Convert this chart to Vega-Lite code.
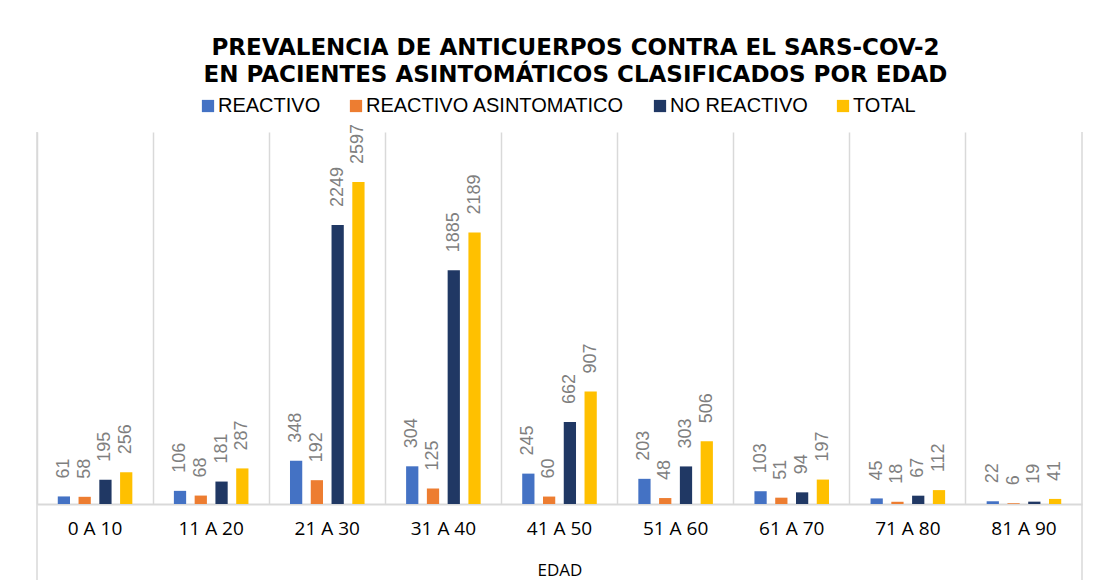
{
  "$schema": "https://vega.github.io/schema/vega-lite/v6.json",
  "width": 1045,
  "height": 372,
  "autosize": {"type": "none"},
  "padding": {"left": 37, "top": 132, "right": 15, "bottom": 76},
  "background": "white",
  "config": {"view": {"stroke": null}},
  "title": {
    "text": ["PREVALENCIA DE ANTICUERPOS CONTRA EL SARS-COV-2", "EN PACIENTES ASINTOMÁTICOS CLASIFICADOS POR EDAD"],
    "font": "DejaVu Sans",
    "fontSize": 23,
    "fontWeight": "bold",
    "color": "#000000",
    "anchor": "middle",
    "frame": "group",
    "lineHeight": 27,
    "offset": 9,
    "dx": 16
  },
  "data": {"values": [
      {"edad": "0 A 10", "serie": "REACTIVO", "valor": 61},
      {"edad": "0 A 10", "serie": "REACTIVO ASINTOMATICO", "valor": 58},
      {"edad": "0 A 10", "serie": "NO REACTIVO", "valor": 195},
      {"edad": "0 A 10", "serie": "TOTAL", "valor": 256},
      {"edad": "11 A 20", "serie": "REACTIVO", "valor": 106},
      {"edad": "11 A 20", "serie": "REACTIVO ASINTOMATICO", "valor": 68},
      {"edad": "11 A 20", "serie": "NO REACTIVO", "valor": 181},
      {"edad": "11 A 20", "serie": "TOTAL", "valor": 287},
      {"edad": "21 A 30", "serie": "REACTIVO", "valor": 348},
      {"edad": "21 A 30", "serie": "REACTIVO ASINTOMATICO", "valor": 192},
      {"edad": "21 A 30", "serie": "NO REACTIVO", "valor": 2249},
      {"edad": "21 A 30", "serie": "TOTAL", "valor": 2597},
      {"edad": "31 A 40", "serie": "REACTIVO", "valor": 304},
      {"edad": "31 A 40", "serie": "REACTIVO ASINTOMATICO", "valor": 125},
      {"edad": "31 A 40", "serie": "NO REACTIVO", "valor": 1885},
      {"edad": "31 A 40", "serie": "TOTAL", "valor": 2189},
      {"edad": "41 A 50", "serie": "REACTIVO", "valor": 245},
      {"edad": "41 A 50", "serie": "REACTIVO ASINTOMATICO", "valor": 60},
      {"edad": "41 A 50", "serie": "NO REACTIVO", "valor": 662},
      {"edad": "41 A 50", "serie": "TOTAL", "valor": 907},
      {"edad": "51 A 60", "serie": "REACTIVO", "valor": 203},
      {"edad": "51 A 60", "serie": "REACTIVO ASINTOMATICO", "valor": 48},
      {"edad": "51 A 60", "serie": "NO REACTIVO", "valor": 303},
      {"edad": "51 A 60", "serie": "TOTAL", "valor": 506},
      {"edad": "61 A 70", "serie": "REACTIVO", "valor": 103},
      {"edad": "61 A 70", "serie": "REACTIVO ASINTOMATICO", "valor": 51},
      {"edad": "61 A 70", "serie": "NO REACTIVO", "valor": 94},
      {"edad": "61 A 70", "serie": "TOTAL", "valor": 197},
      {"edad": "71 A 80", "serie": "REACTIVO", "valor": 45},
      {"edad": "71 A 80", "serie": "REACTIVO ASINTOMATICO", "valor": 18},
      {"edad": "71 A 80", "serie": "NO REACTIVO", "valor": 67},
      {"edad": "71 A 80", "serie": "TOTAL", "valor": 112},
      {"edad": "81 A 90", "serie": "REACTIVO", "valor": 22},
      {"edad": "81 A 90", "serie": "REACTIVO ASINTOMATICO", "valor": 6},
      {"edad": "81 A 90", "serie": "NO REACTIVO", "valor": 19},
      {"edad": "81 A 90", "serie": "TOTAL", "valor": 41}
  ]},
  "encoding": {
    "x": {
      "field": "edad", "type": "nominal", "sort": null,
      "scale": {"domain": ["0 A 10", "11 A 20", "21 A 30", "31 A 40", "41 A 50", "51 A 60", "61 A 70", "71 A 80", "81 A 90"], "paddingInner": 0, "paddingOuter": 0},
      "axis": {
        "labelAngle": 0, "ticks": false, "domain": true, "domainColor": "#d9d9d9", "domainWidth": 2,
        "grid": true, "bandPosition": 0, "gridColor": "#d9d9d9", "gridWidth": 1.5,
        "labelFont": "Open Sans", "labelFontSize": 19, "labelColor": "#000000", "labelPadding": 15,
        "title": "EDAD", "titleFont": "Open Sans", "titleFontSize": 17, "titleFontWeight": "normal", "titleColor": "#000000", "titlePadding": 24
      }
    },
    "y": {"field": "valor", "type": "quantitative", "scale": {"domain": [0, 3000], "nice": false}, "axis": null}
  },
  "layer": [
    {
      "transform": [{"filter": "datum.serie === 'REACTIVO' && datum.edad === '0 A 10'"}],
      "mark": {"type": "rule", "color": "#d9d9d9", "strokeWidth": 1.5, "clip": false},
      "encoding": {
        "x": {"field": "edad", "type": "nominal", "bandPosition": 0},
        "y": {"datum": 3000},
        "y2": {"datum": -620}
      }
    },
    {
      "transform": [{"filter": "datum.serie === 'REACTIVO' && datum.edad === '81 A 90'"}],
      "mark": {"type": "rule", "color": "#d9d9d9", "strokeWidth": 1.5, "clip": false},
      "encoding": {
        "x": {"field": "edad", "type": "nominal", "bandPosition": 1},
        "y": {"datum": 3000},
        "y2": {"datum": -620}
      }
    },
    {
      "mark": {"type": "bar"},
      "encoding": {
        "xOffset": {
          "field": "serie", "type": "nominal", "sort": ["REACTIVO", "REACTIVO ASINTOMATICO", "NO REACTIVO", "TOTAL"],
          "scale": {"domain": ["REACTIVO", "REACTIVO ASINTOMATICO", "NO REACTIVO", "TOTAL"], "paddingInner": 0.41, "paddingOuter": 1.3}
        },
        "color": {
          "field": "serie", "type": "nominal",
          "scale": {"domain": ["REACTIVO", "REACTIVO ASINTOMATICO", "NO REACTIVO", "TOTAL"], "range": ["#4472C4", "#ED7D31", "#203864", "#FFC000"]},
          "legend": {
            "orient": "none", "legendX": 161, "legendY": -36, "direction": "horizontal", "title": null,
            "symbolType": "square", "symbolSize": 150, "symbolStrokeWidth": 0, "symbolOpacity": 1,
            "labelFont": "Liberation Sans", "labelFontSize": 20, "labelColor": "#000000", "labelOffset": 0, "labelLimit": 500, "columnPadding": 25
          }
        }
      }
    },
    {
      "mark": {"type": "text", "angle": -90, "align": "left", "baseline": "middle", "dx": 18, "font": "Liberation Sans", "fontSize": 18, "color": "#7f7f7f"},
      "encoding": {
        "xOffset": {
          "field": "serie", "type": "nominal", "sort": ["REACTIVO", "REACTIVO ASINTOMATICO", "NO REACTIVO", "TOTAL"]
        },
        "text": {"field": "valor", "type": "quantitative"}
      }
    }
  ]
}
